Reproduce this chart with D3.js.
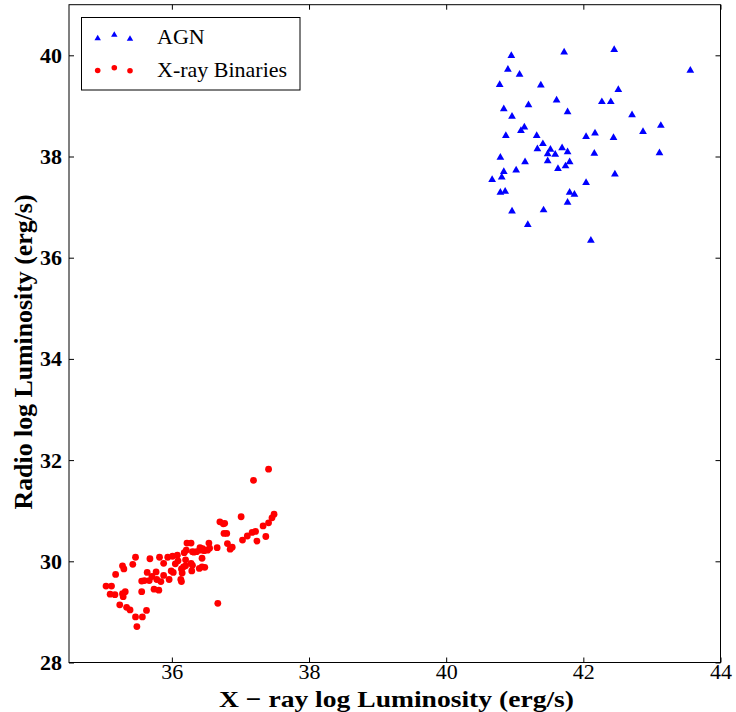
<!DOCTYPE html>
<html>
<head>
<meta charset="utf-8">
<script src="https://cdn.jsdelivr.net/npm/d3@7"></script>
<style>
  html, body { margin: 0; padding: 0; background: #fff; }
  svg { display: block; }
</style>
</head>
<body>
<svg id="chart" width="736" height="712"></svg>
<script>
// ---- data ----
const agnX = [40.95,41.72,42.45,43.56,40.90,41.07,40.78,41.38,42.51,41.61,41.20,42.27,42.40,40.84,41.77,40.96,42.71,41.14,41.09,43.13,42.87,40.87,41.32,42.04,42.17,42.44,41.41,41.33,41.52,41.69,41.48,41.59,41.77,40.79,42.16,43.11,41.48,41.15,41.80,41.74,41.63,41.02,40.84,40.81,40.67,42.46,42.04,40.79,40.86,41.80,41.87,41.77,40.96,41.42,41.19,42.11];
const agnY = [39.99,40.06,40.11,39.70,39.72,39.62,39.42,39.41,39.32,39.11,39.02,39.08,39.08,38.94,38.88,38.79,38.82,38.58,38.51,38.61,38.49,38.41,38.41,38.39,38.46,38.37,38.25,38.15,38.14,38.17,38.05,38.04,38.09,37.98,38.06,38.07,37.91,37.89,37.89,37.81,37.76,37.73,37.70,37.59,37.54,37.65,37.48,37.29,37.31,37.29,37.25,37.09,36.92,36.94,36.65,36.34];

const xrbX = [35.04,35.12,35.10,35.17,35.28,35.32,35.29,35.18,35.28,35.30,35.43,35.47,35.24,35.34,35.39,35.47,35.57,35.63,35.49,35.56,35.56,35.60,35.64,35.68,35.71,35.67,35.74,35.81,35.78,35.77,35.82,35.88,35.88,35.84,35.94,36.01,35.96,35.99,36.02,36.05,36.08,36.09,36.13,36.14,36.15,36.18,36.20,36.20,36.22,36.28,36.29,36.30,36.14,36.21,36.30,36.32,36.36,36.40,36.44,36.48,36.41,36.45,36.47,36.44,36.54,36.55,36.52,36.66,36.67,36.28,36.41,36.17,36.70,36.75,36.77,36.76,36.80,36.81,36.88,36.85,37.01,37.03,37.10,37.17,37.22,37.24,37.33,37.37,37.41,37.46,37.49,37.19,37.41];
const xrbY = [29.51,29.51,29.35,29.34,29.36,29.40,29.30,29.74,29.91,29.85,29.94,30.08,29.14,29.09,29.04,28.90,28.90,29.03,28.71,29.40,29.61,29.62,29.78,30.05,29.70,29.62,29.45,29.43,29.64,29.79,30.08,29.96,29.72,29.60,30.08,30.10,29.64,29.81,29.78,29.95,30.12,30.01,29.64,29.60,29.77,30.17,30.03,29.91,30.36,29.96,29.81,30.19,29.85,30.22,29.92,30.18,30.19,29.86,29.89,29.88,30.22,30.25,30.21,30.06,30.36,30.26,30.22,30.27,29.17,30.36,30.27,29.89,30.78,30.74,30.75,30.55,30.55,30.35,30.28,30.24,30.88,30.42,30.50,30.57,30.59,30.40,30.70,30.49,30.76,30.86,30.93,31.60,31.82];

const xTicks = [36, 38, 40, 42, 44];
const yTicks = [28, 30, 32, 34, 36, 38, 40];
const seriesNames = ["AGN", "X-ray Binaries"];
const xLabel = "X \u2212 ray log Luminosity (erg/s)";
const yLabel = "Radio log Luminosity (erg/s)";

// ---- layout ----
const L = 69, R = 720.5, T = 4.7, B = 662.5;
const svg = d3.select("#chart");
const x = d3.scaleLinear().domain([34.5, 44]).range([L, R]);
const y = d3.scaleLinear().domain([28, 41]).range([B, T]);
const serif = "'Liberation Serif', 'Times New Roman', serif";

// points
const tri = d3.symbol().type(d3.symbolTriangle).size(26);
svg.append("g").selectAll("path")
  .data(agnX.map((v, i) => [v, agnY[i]]))
  .join("path")
  .attr("d", tri)
  .attr("transform", d => `translate(${x(d[0])},${y(d[1])})`)
  .attr("fill", "#0000ff");

svg.append("g").selectAll("circle")
  .data(xrbX.map((v, i) => [v, xrbY[i]]))
  .join("circle")
  .attr("cx", d => x(d[0]))
  .attr("cy", d => y(d[1]))
  .attr("r", 3.4)
  .attr("fill", "#ff0000");

// axes (inward ticks on all four sides)
function styleAxis(g) {
  g.select(".domain").remove();
  g.selectAll(".tick line").attr("stroke", "#000").attr("stroke-width", 1);
}
svg.append("g").attr("transform", `translate(0,${B})`)
  .call(d3.axisBottom(x).tickValues(xTicks).tickSize(-5).tickPadding(1).tickFormat(d3.format("d")))
  .call(styleAxis)
  .selectAll("text").attr("font-family", serif).attr("font-size", 22).attr("fill", "#000");
svg.append("g").attr("transform", `translate(0,${T})`)
  .call(d3.axisTop(x).tickValues(xTicks).tickSize(-5).tickFormat(""))
  .call(styleAxis);
svg.append("g").attr("transform", `translate(${L},0)`)
  .call(d3.axisLeft(y).tickValues(yTicks).tickSize(-5).tickPadding(7).tickFormat(d3.format("d")))
  .call(styleAxis)
  .selectAll("text").attr("font-family", serif).attr("font-size", 22).attr("font-weight", "bold").attr("fill", "#000");
svg.append("g").attr("transform", `translate(${R},0)`)
  .call(d3.axisRight(y).tickValues(yTicks).tickSize(-5).tickFormat(""))
  .call(styleAxis);

// frame
svg.append("rect")
  .attr("x", L).attr("y", T).attr("width", R - L).attr("height", B - T)
  .attr("fill", "none").attr("stroke", "#000").attr("stroke-width", 1);

// axis labels
svg.append("text")
  .attr("x", 396.5).attr("y", 706.5)
  .attr("text-anchor", "middle")
  .attr("font-family", serif).attr("font-size", 24).attr("font-weight", "bold")
  .attr("textLength", 355).attr("lengthAdjust", "spacingAndGlyphs")
  .text(xLabel);
svg.append("text")
  .attr("transform", `translate(32,${352}) rotate(-90)`)
  .attr("text-anchor", "middle")
  .attr("font-family", serif).attr("font-size", 25).attr("font-weight", "bold")
  .attr("textLength", 315).attr("lengthAdjust", "spacingAndGlyphs")
  .text(yLabel);

// legend
const lg = svg.append("g");
lg.append("rect").attr("x", 81.5).attr("y", 17.5).attr("width", 218.5).attr("height", 72.5)
  .attr("fill", "#fff").attr("stroke", "#000").attr("stroke-width", 1);
const legTri = d3.symbol().type(d3.symbolTriangle).size(18);
const legXs = [97.7, 114.3, 130];
const triYs = [38.5, 35, 39];
const cirYs = [70.5, 67.7, 70.7];
lg.selectAll(".lt").data(legXs).join("path").attr("class", "lt")
  .attr("d", legTri)
  .attr("transform", (d, i) => `translate(${d},${triYs[i]})`)
  .attr("fill", "#0000ff");
lg.selectAll(".lc").data(legXs).join("circle").attr("class", "lc")
  .attr("cx", d => d).attr("cy", (d, i) => cirYs[i]).attr("r", 2.8)
  .attr("fill", "#ff0000");
lg.selectAll(".ltxt").data(seriesNames).join("text").attr("class", "ltxt")
  .attr("x", 157).attr("y", (d, i) => i === 0 ? 44 : 76.5)
  .attr("font-family", serif).attr("font-size", 22)
  .text(d => d);
</script>
</body>
</html>
